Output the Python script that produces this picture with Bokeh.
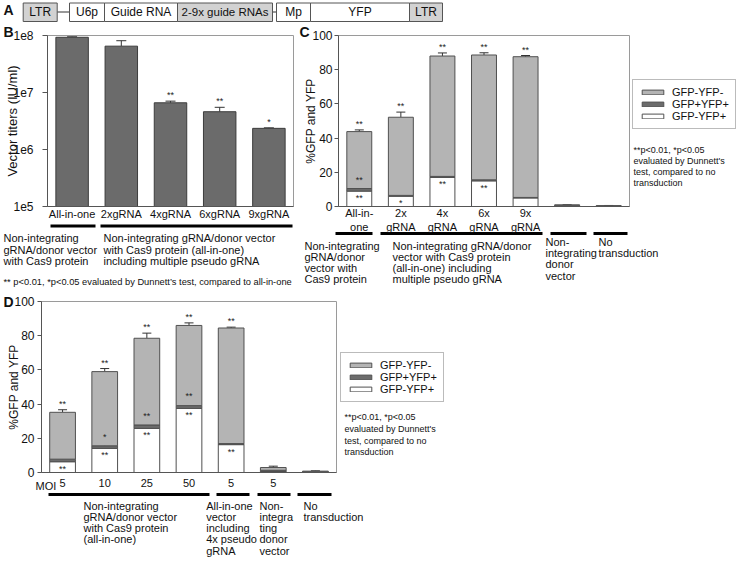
import math
from bokeh.plotting import figure
from bokeh.models import (Range1d, FixedTicker, Whisker, TeeHead, ColumnDataSource,
                          Legend, LegendItem, LinearAxis, LogAxis, LogScale)
from bokeh.embed import file_html
from bokeh.resources import INLINE
from bokeh.core.properties import value

FONT = "Liberation Sans"
LIGHT = "#b4b4b4"
DARK = "#6c6c6c"
EDGE = "#505050"
AXIS = "#555555"
OUTLINE = "#9a9a9a"
INK = "#111111"

# ---------------- data ----------------
# Panel A (construct)
a_parts = ["LTR", "U6p", "Guide RNA", "2-9x guide RNAs", "Mp", "YFP", "LTR"]
a_shaded = [True, False, False, True, False, False, True]

# Panel B
b_names = ["All-in-one", "2xgRNA", "4xgRNA", "6xgRNA", "9xgRNA"]
b_titer = [9.3e7, 6.5e7, 6.6e6, 4.6e6, 2.35e6]
b_err = [2.0e6, 1.6e7, 4.5e5, 9.0e5, 5.0e4]
b_sig = ["", "", "**", "**", "*"]
b_ticks = [1e5, 1e6, 1e7, 1e8]
b_tick_labels = ["1e5", "1e6", "1e7", "1e8"]

# Panel C
c_names = ["All-in-\none", "2x\ngRNA", "4x\ngRNA", "6x\ngRNA", "9x\ngRNA", "", ""]
c_yfp = [9.0, 6.0, 17.0, 15.0, 5.0, 0.3, 0.1]      # GFP-YFP+
c_both = [1.5, 0.5, 0.6, 0.6, 0.3, 0.2, 0.1]      # GFP+YFP+
c_neg = [33.3, 45.7, 70.4, 73.0, 82.3, 0.5, 0.3]  # GFP-YFP-
c_err_band = [1.4, 0.3, 0.3, 2.0, 0.2, 0.0, 0.0]
c_err_total = [1.0, 3.0, 1.8, 1.3, 0.7, 0.1, 0.1]
c_sig_top = ["**", "**", "**", "**", "**", "", ""]
c_sig_band = ["**", "", "", "", "", "", ""]
c_sig_in = ["**", "*", "**", "**", "", "", ""]

# Panel D
d_names = ["5", "10", "25", "50", "5", "5", ""]
d_yfp = [6.3, 14.1, 25.8, 37.5, 16.3, 0.6, 0.2]
d_both = [1.5, 1.5, 2.0, 1.6, 0.6, 0.7, 0.2]
d_neg = [27.4, 43.4, 50.7, 46.9, 67.6, 1.6, 0.4]
d_err_band = [1.4, 1.4, 1.9, 1.9, 0.3, 0.3, 0.1]
d_err_total = [1.5, 1.8, 3.0, 1.5, 0.5, 0.8, 0.2]
d_sig_top = ["**", "**", "**", "**", "**", "", ""]
d_sig_band = ["", "*", "**", "**", "", "", ""]
d_sig_in = ["**", "**", "**", "**", "**", "", ""]

pct_ticks = [0, 20, 40, 60, 80, 100]
legend_names = ["GFP-YFP-", "GFP+YFP+", "GFP-YFP+"]
note_lines = ["**p<0.01, *p<0.05", "evaluated by Dunnett's", "test, compared to no", "transduction"]

# ---------------- page geometry (pixels) ----------------
PX0, PX1 = 0, 739     # canvas left / right
PY0, PY1 = 0, 565     # canvas top / bottom


def span(v0, p0, v1, p1, lo, hi):
    k = (v1 - v0) / (p1 - p0)
    return v0 + (lo - p0) * k, v0 + (hi - p0) * k


def xrange_for(n, left_px, right_px):
    return Range1d(*span(-0.5, left_px, n - 0.5, right_px, PX0, PX1))


def yrange_for(vbot, bot_px, vtop, top_px):
    return Range1d(*span(vbot, bot_px, vtop, top_px, PY1, PY0))


# panel frames (left, right, bottom, top) in pixels
FB = (47, 293, 206, 35)
FC = (338, 629, 206, 35)
FD = (41, 336, 472, 301)

lb0, lb1 = span(math.log10(b_ticks[0]), FB[2], math.log10(b_ticks[-1]), FB[3], PY1, PY0)

p = figure(width=PX1 - PX0, height=PY1 - PY0,
           x_range=Range1d(PX0, PX1), y_range=Range1d(PY1, PY0),
           min_border=0, x_axis_location=None, y_axis_location=None,
           toolbar_location=None, output_backend="svg",
           extra_x_ranges={"bx": xrange_for(len(b_names), FB[0], FB[1]),
                           "cx": xrange_for(len(c_names), FC[0], FC[1]),
                           "dx": xrange_for(len(d_names), FD[0], FD[1])},
           extra_y_ranges={"by": Range1d(10 ** lb0, 10 ** lb1),
                           "cy": yrange_for(pct_ticks[0], FC[2], pct_ticks[-1], FC[3]),
                           "dy": yrange_for(pct_ticks[0], FD[2], pct_ticks[-1], FD[3])},
           extra_y_scales={"by": LogScale()})
p.xgrid.visible = False
p.ygrid.visible = False
p.outline_line_color = None
p.background_fill_color = "white"
p.border_fill_color = "white"


# ---------------- helpers ----------------
def txt(xs, ys, texts, size="11px", align="left", baseline="middle", bold=False, angle=0.0):
    p.text(x=xs, y=ys, text=texts, text_font=value(FONT), text_font_size=size,
           text_align=align, text_baseline=baseline, angle=angle,
           text_font_style="bold" if bold else "normal", text_color=INK)


def block(x, y0, lines, step, size="11px"):
    txt([x] * len(lines), [y0 + k * step for k in range(len(lines))], lines, size=size)


def rules(pairs, y):
    p.segment(x0=[a for a, b in pairs], x1=[b for a, b in pairs],
              y0=[y] * len(pairs), y1=[y] * len(pairs), line_width=3, line_color="black")


def axes(xr, yr, n, names, frame, yticks, ylabels, ycls, xstand, ystand, ytick_out, ybounds):
    xa = LinearAxis(x_range_name=xr, fixed_location=frame[2], bounds=(-0.5, n - 0.5),
                    ticker=FixedTicker(ticks=list(range(n))),
                    major_label_overrides={i: s for i, s in enumerate(names)},
                    major_tick_out=0, major_tick_in=0, minor_tick_out=0, minor_tick_in=0,
                    major_label_standoff=xstand, major_label_text_font=FONT,
                    major_label_text_font_size="11px", major_label_text_color=INK,
                    axis_line_color=AXIS)
    p.add_layout(xa, "below")
    ya = ycls(y_range_name=yr, fixed_location=frame[0], bounds=ybounds,
              ticker=FixedTicker(ticks=list(yticks)),
              major_label_overrides={t: s for t, s in zip(yticks, ylabels)},
              major_tick_out=ytick_out, major_tick_in=0, minor_tick_out=0, minor_tick_in=0,
              major_tick_line_color=AXIS, major_label_standoff=ystand,
              major_label_text_font=FONT, major_label_text_font_size="12px",
              major_label_text_color=INK, axis_line_color=AXIS)
    p.add_layout(ya, "left")


def stacked(xr, yr, yfp, both, neg, err_band, err_total, s_top, s_band, s_in, width):
    n = len(yfp)
    band = [a + b for a, b in zip(yfp, both)]
    total = [a + b for a, b in zip(band, neg)]
    src = ColumnDataSource(dict(
        x=list(range(n)), yfp=yfp, band=band, total=total,
        band_err=[b + e for b, e in zip(band, err_band)],
        total_err=[t + e for t, e in zip(total, err_total)],
        s_top=s_top, s_band=s_band, s_in=s_in))
    rn = dict(x_range_name=xr, y_range_name=yr, source=src, width=width,
              line_color=EDGE, line_width=1)
    r_white = p.vbar(x="x", bottom=0, top="yfp", fill_color="white", **rn)
    r_dark = p.vbar(x="x", bottom="yfp", top="band", fill_color=DARK, **rn)
    r_gray = p.vbar(x="x", bottom="band", top="total", fill_color=LIGHT, **rn)
    for lo, hi in (("band", "band_err"), ("total", "total_err")):
        p.add_layout(Whisker(source=src, base="x", lower=lo, upper=hi,
                             x_range_name=xr, y_range_name=yr,
                             dimension="height", line_color="#333333", line_width=1,
                             upper_head=TeeHead(size=9, line_color="#333333", line_width=1),
                             lower_head=None))
    common = dict(source=src, text_align="center", text_font=value(FONT),
                  text_font_size="9px", text_color="#222222", x="x",
                  x_range_name=xr, y_range_name=yr)
    p.text(y="total_err", text="s_top", text_baseline="bottom", y_offset=-1, **common)
    p.text(y="band_err", text="s_band", text_baseline="bottom", y_offset=-1, **common)
    p.text(y="yfp", text="s_in", text_baseline="top", y_offset=2, **common)
    return r_gray, r_dark, r_white


def legend_at(rends, left_px, bottom_px):
    items = [LegendItem(label=nm, renderers=[r]) for nm, r in zip(legend_names, rends)]
    lg = Legend(items=items, location=(left_px - PX0, PY1 - bottom_px),
                glyph_width=27, glyph_height=6,
                label_height=11, label_standoff=6, spacing=0, padding=6, margin=0,
                border_line_color="#777777", border_line_width=1,
                background_fill_color="white", background_fill_alpha=1.0,
                label_text_font=FONT, label_text_font_size="11px",
                label_text_color=INK)
    p.add_layout(lg)


# ---------------- panel A ----------------
a_left = [22.7, 69, 104, 177, 276, 310, 409]
a_right = [56.7, 104, 177, 272, 310, 409, 442]
p.segment(x0=[56.7, 272], x1=[69, 276], y0=[11.5, 11.5], y1=[11.5, 11.5],
          line_color="#333333", line_width=1.2)
p.quad(left=a_left, right=a_right, top=2.5, bottom=21,
       fill_color=["#d2d2d2" if s else "white" for s in a_shaded],
       line_color="#555555", line_width=1)
p.text(x=[(l + r) / 2 for l, r in zip(a_left, a_right)], y=[11.8] * len(a_parts),
       text=a_parts, text_align="center", text_baseline="middle", text_font=value(FONT),
       text_font_size=["12px", "12px", "12px", "11.5px", "12px", "12px", "12px"],
       text_color=INK)
txt([3], [9], ["A"], size="14px", bold=True)

# ---------------- panel B ----------------
p.quad(left=-0.5, right=len(b_names) - 0.5, bottom=b_ticks[0], top=b_ticks[-1],
       x_range_name="bx", y_range_name="by", fill_color=None, line_color=OUTLINE)
srcB = ColumnDataSource(dict(x=list(range(len(b_names))), top=b_titer,
                             up=[t + e for t, e in zip(b_titer, b_err)], sig=b_sig))
p.vbar(x="x", top="top", bottom=b_ticks[0], width=0.66, source=srcB,
       x_range_name="bx", y_range_name="by",
       fill_color="#6b6b6b", line_color="#3c3c3c", line_width=1)
p.add_layout(Whisker(source=srcB, base="x", lower="top", upper="up", dimension="height",
                     x_range_name="bx", y_range_name="by",
                     line_color="#333333", upper_head=TeeHead(size=10, line_color="#333333"),
                     lower_head=None))
p.text(x="x", y="up", text="sig", source=srcB, x_range_name="bx", y_range_name="by",
       text_align="center", text_baseline="bottom", y_offset=-1,
       text_font=value(FONT), text_font_size="9px", text_color="#222222")
axes("bx", "by", len(b_names), b_names, FB, b_ticks, b_tick_labels, LogAxis, 1, 9, 5,
     (b_ticks[0], b_ticks[-1]))
txt([3], [31], ["B"], size="14px", bold=True)
txt([12], [(FB[2] + FB[3]) / 2], ["Vector titers (IU/ml)"], size="13px", align="center",
    angle=math.pi / 2)
rules([(50, 95), (100, 292)], 225.5)
block(3, 237.5, ["Non-integrating", "gRNA/donor vector", "with Cas9 protein"], 11.5)
block(103, 237.5, ["Non-integrating gRNA/donor vector", "with Cas9 protein (all-in-one)",
                   "including multiple pseudo gRNA"], 11.5)
txt([3], [281.7], ["** p<0.01, *p<0.05 evaluated by Dunnett\u2019s test, compared to all-in-one"],
    size="9.3px")

# ---------------- panel C ----------------
p.quad(left=-0.5, right=len(c_names) - 0.5, bottom=pct_ticks[0], top=pct_ticks[-1],
       x_range_name="cx", y_range_name="cy", fill_color=None, line_color=OUTLINE)
rc = stacked("cx", "cy", c_yfp, c_both, c_neg, c_err_band, c_err_total,
             c_sig_top, c_sig_band, c_sig_in, 0.6)
axes("cx", "cy", len(c_names), c_names, FC, pct_ticks, [str(t) for t in pct_ticks],
     LinearAxis, 0, 2, 4, (pct_ticks[0], pct_ticks[-1]))
legend_at(rc, 632, 129)
txt([299], [31], ["C"], size="14px", bold=True)
txt([310], [(FC[2] + FC[3]) / 2], ["%GFP and YFP"], size="12px", align="center",
    angle=math.pi / 2)
rules([(335, 372), (380, 542), (550, 586), (593, 627)], 233)
block(304, 245, ["Non-integrating", "gRNA/donor", "vector with", "Cas9 protein"], 11)
block(392, 245, ["Non-integrating gRNA/donor", "vector with Cas9 protein",
                 "(all-in-one) including", "multiple pseudo gRNA"], 11)
block(545, 241.5, ["Non-", "integrating", "donor", "vector"], 11.2)
block(598, 241.5, ["No", "transduction"], 11.2)
block(633, 149, note_lines, 11, size="9px")

# ---------------- panel D ----------------
p.quad(left=-0.5, right=len(d_names) - 0.5, bottom=pct_ticks[0], top=pct_ticks[-1],
       x_range_name="dx", y_range_name="dy", fill_color=None, line_color=OUTLINE)
rd = stacked("dx", "dy", d_yfp, d_both, d_neg, d_err_band, d_err_total,
             d_sig_top, d_sig_band, d_sig_in, 0.61)
axes("dx", "dy", len(d_names), d_names, FD, pct_ticks, [str(t) for t in pct_ticks],
     LinearAxis, 6, 3, 4, (pct_ticks[0], pct_ticks[-1]))
legend_at(rd, 340, 402)
txt([3], [301], ["D"], size="14px", bold=True)
txt([13], [(FD[2] + FD[3]) / 2], ["%GFP and YFP"], size="12px", align="center",
    angle=math.pi / 2)
txt([35], [485], ["MOI"])
rules([(48, 209), (216, 249), (257, 290), (297, 331)], 494)
block(83, 505, ["Non-integrating", "gRNA/donor vector", "with Cas9 protein", "(all-in-one)"], 11.25)
block(205.7, 505, ["All-in-one", "vector", "including", "4x pseudo", "gRNA"], 11.25)
block(259, 505, ["Non-", "integra", "ting", "donor", "vector"], 11.25)
block(303, 505, ["No", "transduction"], 11.25)
block(344, 416.7, note_lines, 11.7, size="9px")

open("out.html", "w").write(file_html(p, INLINE))
